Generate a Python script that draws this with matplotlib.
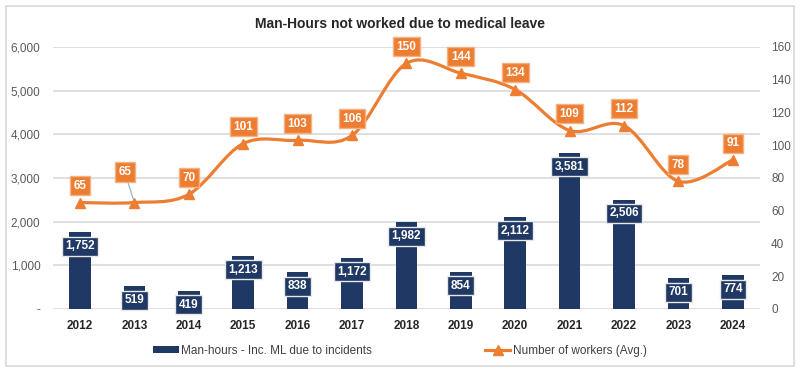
import matplotlib
matplotlib.use("Agg")
import matplotlib.pyplot as plt
from matplotlib.path import Path
from matplotlib.patches import PathPatch, Rectangle
from matplotlib.lines import Line2D
from matplotlib.ticker import FuncFormatter, MultipleLocator
import numpy as np

plt.rcParams['font.family'] = ['Liberation Sans', 'DejaVu Sans']

years = ['2012', '2013', '2014', '2015', '2016', '2017', '2018',
         '2019', '2020', '2021', '2022', '2023', '2024']
man_hours = [1752, 519, 419, 1213, 838, 1172, 1982, 854, 2112, 3581, 2506, 701, 774]
workers = [65, 65, 70, 101, 103, 106, 150, 144, 134, 109, 112, 78, 91]

title = 'Man-Hours not worked due to medical leave'
bar_label = 'Man-hours - Inc. ML due to incidents'
line_label = 'Number of workers (Avg.)'

NAVY = '#1F3864'
ORANGE = '#ED7D31'
GRID = '#D9D9D9'
TXT = '#595959'

fig = plt.figure(figsize=(8, 3.73), dpi=100)
fig.patches.append(Rectangle((0.008, 0.02), 0.984, 0.965, transform=fig.transFigure,
                             fill=False, ec=GRID, lw=1.2, zorder=0))
ax = fig.add_axes([0.066, 0.1716, 0.884, 0.7024])
ax2 = ax.twinx()

x = np.arange(len(years))
ax.bar(x, man_hours, width=0.4, color=NAVY, zorder=2)
ax.set_ylim(0, 6000)
ax.set_xlim(-0.5, len(years) - 0.5)
ax.yaxis.set_major_locator(MultipleLocator(1000))
ax.yaxis.set_major_formatter(FuncFormatter(lambda v, p: '-' if v == 0 else f'{int(v):,}'))
ax.grid(axis='y', color=GRID, lw=1.2, zorder=0)
ax.set_axisbelow(True)
for s in ax.spines.values():
    s.set_visible(False)
for s in ax2.spines.values():
    s.set_visible(False)
ax.tick_params(axis='y', length=0, colors=TXT, labelsize=8.5, pad=9)
ax.tick_params(axis='x', length=0, pad=8)
ax.set_xticks(x)
ax.set_xticklabels(years, fontweight='bold', fontsize=8.5, color='#262626')

for xi, v in zip(x, man_hours):
    ax.annotate(f'{v:,}', (xi, v), xytext=(0, -10), textcoords='offset points',
                ha='center', va='center', color='white', fontweight='bold', fontsize=8.5,
                bbox=dict(boxstyle='square,pad=0.3', fc=NAVY, ec='#E8E8E8', lw=1), zorder=5)

# smoothed line (Catmull-Rom as cubic Bezier)
ax2.set_ylim(0, 160)
ax2.yaxis.set_major_locator(MultipleLocator(20))
ax2.tick_params(axis='y', length=0, colors=TXT, labelsize=8.5, pad=8)
pts = np.column_stack([x, workers]).astype(float)
n = len(pts)
verts = [pts[0]]
codes = [Path.MOVETO]
for i in range(n - 1):
    p0 = pts[i - 1] if i > 0 else pts[i]
    p1 = pts[i]
    p2 = pts[i + 1]
    p3 = pts[i + 2] if i + 2 < n else pts[i + 1]
    c1 = p1 + (p2 - p0) / 6
    c2 = p2 - (p3 - p1) / 6
    verts += [c1, c2, p2]
    codes += [Path.CURVE4] * 3
ax2.add_patch(PathPatch(Path(verts, codes), fill=False, ec=ORANGE, lw=2.3, zorder=3))
ax2.plot(x, workers, ls='none', marker='^', color=ORANGE, ms=7, zorder=4)

for i, (xi, v) in enumerate(zip(x, workers)):
    if i == 1:
        ax2.annotate(f'{v}', (xi, v), xytext=(-7, 22), textcoords='offset points',
                     ha='center', va='center', color='white', fontweight='bold', fontsize=8.5,
                     bbox=dict(boxstyle='square,pad=0.3', fc=ORANGE, ec='#F4B183', lw=1),
                     arrowprops=dict(arrowstyle='-', color='#8EA9C1', lw=0.8,
                                     shrinkA=0, shrinkB=2), zorder=5)
    else:
        ax2.annotate(f'{v}', (xi, v), xytext=(0, 12), textcoords='offset points',
                     ha='center', va='center', color='white', fontweight='bold', fontsize=8.5,
                     bbox=dict(boxstyle='square,pad=0.3', fc=ORANGE, ec='#F4B183', lw=1), zorder=5)

fig.text(0.5, 0.935, title, ha='center', va='center', fontsize=10, fontweight='bold', color='#262626')

handles = [Rectangle((0, 0), 1, 1, fc=NAVY),
           Line2D([], [], color=ORANGE, lw=2.3, marker='^', ms=7)]
fig.legend(handles, [bar_label, line_label], loc='center', bbox_to_anchor=(0.5, 0.06),
           ncol=2, frameon=False, fontsize=8.5, labelcolor='#404040', columnspacing=9.5,
           handlelength=2.2, handleheight=0.45, handletextpad=0.2)

fig.savefig('out.png', dpi=100)
